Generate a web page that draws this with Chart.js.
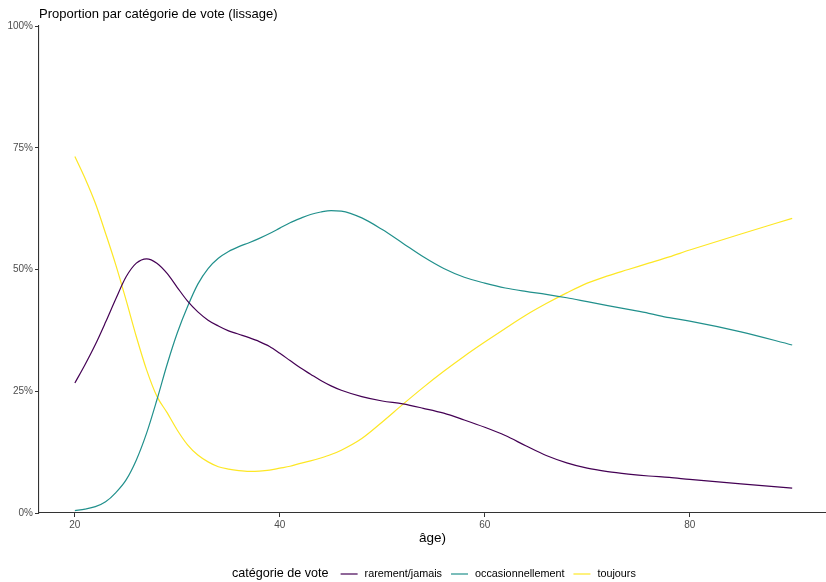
<!DOCTYPE html>
<html lang="fr">
<head>
<meta charset="utf-8">
<title>Proportion par catégorie de vote</title>
<script src="https://cdn.jsdelivr.net/npm/chart.js@4/dist/chart.umd.min.js"></script>
<style>
  html, body { margin: 0; padding: 0; background: #ffffff; }
  #wrap { width: 826px; height: 582px; position: relative; }
</style>
</head>
<body>
<div id="wrap"><canvas id="chart" width="826" height="582"></canvas></div>
<script>
// Âge (années)
const ages = [20,21,22,23,24,25,26,27,28,29,30,31,32,33,34,35,36,37,38,39,40,41,42,43,44,45,46,48,50,52,54,56,58,60,62,64,66,68,70,72,74,76,78,80,85,90];

// Proportions lissées (%) par catégorie de vote
const rarementJamais = [26.7,30.5,34.6,39.2,44.0,48.5,51.3,52.2,51.3,49.2,46.3,43.5,41.3,39.6,38.4,37.4,36.7,36.0,35.2,34.2,32.8,31.3,29.8,28.5,27.2,26.1,25.2,23.9,23.0,22.4,21.5,20.5,19.1,17.6,15.9,13.8,11.8,10.3,9.2,8.5,8.0,7.6,7.3,6.9,6.0,5.1];
const occasionnellement = [0.5,0.8,1.3,2.3,4.2,6.8,10.9,16.4,23.2,30.5,37.0,42.4,47.0,50.2,52.3,53.7,54.7,55.5,56.4,57.4,58.5,59.6,60.5,61.3,61.8,62.1,62.0,60.6,58.2,55.4,52.6,50.2,48.4,47.2,46.2,45.5,44.9,44.2,43.4,42.6,41.8,41.0,40.1,39.4,37.2,34.5];
const toujours = [73.2,68.7,63.6,57.4,50.9,43.7,36.2,29.4,24.0,20.6,17.0,14.0,11.9,10.5,9.5,9.0,8.7,8.55,8.6,8.8,9.2,9.6,10.2,10.7,11.3,12.0,12.9,15.3,18.7,22.3,25.8,29.1,32.2,35.1,37.9,40.6,43.0,45.2,47.2,48.7,50.0,51.3,52.6,54.0,57.3,60.5];

const categories = ['rarement/jamais', 'occasionnellement', 'toujours'];
const seriesValues = [rarementJamais, occasionnellement, toujours];
const seriesColors = ['#440154', '#21908C', '#FDE725'];

const xTicks = [20, 40, 60, 80];
const yTicks = [0, 0.25, 0.5, 0.75, 1];

const chartTitle = 'Proportion par catégorie de vote (lissage)';
const xTitle = 'âge)';
const legendTitle = 'catégorie de vote';

const FONT = '"Liberation Sans", Arial, Helvetica, sans-serif';

const datasets = categories.map((name, i) => ({
  label: name,
  data: ages.map((a, j) => ({ x: a, y: seriesValues[i][j] / 100 })),
  borderColor: seriesColors[i],
  backgroundColor: seriesColors[i],
  borderWidth: 1.2,
  pointRadius: 0,
  cubicInterpolationMode: 'monotone',
  fill: false
}));

// Title, x-axis title and inline legend drawn on the canvas
const annotations = {
  id: 'annotations',
  afterDraw(chart) {
    const ctx = chart.ctx;
    const area = chart.chartArea;
    ctx.save();
    ctx.fillStyle = '#000000';
    ctx.textBaseline = 'middle';

    ctx.font = '13px ' + FONT;
    ctx.textAlign = 'left';
    ctx.fillText(chartTitle, area.left, 14);

    ctx.font = '13.5px ' + FONT;
    ctx.textAlign = 'center';
    ctx.fillText(xTitle, (area.left + area.right) / 2, 538);

    // legend row
    const ly = 574;
    ctx.textAlign = 'left';
    ctx.font = '12.6px ' + FONT;
    let x = 232;
    ctx.fillText(legendTitle, x, ly);
    x += ctx.measureText(legendTitle).width + 12;
    ctx.font = '10.8px ' + FONT;
    categories.forEach((name, i) => {
      ctx.strokeStyle = seriesColors[i];
      ctx.lineWidth = 1.2;
      ctx.beginPath();
      ctx.moveTo(x, ly);
      ctx.lineTo(x + 17, ly);
      ctx.stroke();
      x += 17 + 7;
      ctx.fillStyle = '#000000';
      ctx.fillText(name, x, ly);
      x += ctx.measureText(name).width + 9;
    });
    ctx.restore();
  }
};

new Chart(document.getElementById('chart'), {
  type: 'line',
  data: { datasets },
  plugins: [annotations],
  options: {
    responsive: false,
    animation: false,
    devicePixelRatio: 1,
    layout: { padding: { top: 26, left: 0, right: 0, bottom: 0 } },
    plugins: {
      legend: { display: false },
      title: { display: false },
      tooltip: { enabled: false }
    },
    scales: {
      x: {
        type: 'linear',
        min: 16.5,
        max: 93.3,
        afterBuildTicks: s => { s.ticks = xTicks.map(v => ({ value: v })); },
        afterFit: s => { s.height = 69; },
        grid: { drawOnChartArea: false, drawTicks: true, tickLength: 4, color: '#333333', lineWidth: 1 },
        border: { display: true, color: '#333333', width: 1.1 },
        ticks: { color: '#4d4d4d', font: { family: FONT, size: 10 }, padding: 2, maxRotation: 0 }
      },
      y: {
        type: 'linear',
        min: 0,
        max: 1,
        afterBuildTicks: s => { s.ticks = yTicks.map(v => ({ value: v })); },
        afterFit: s => { s.width = 39; },
        grid: { drawOnChartArea: false, drawTicks: true, tickLength: 4, color: '#333333', lineWidth: 1 },
        border: { display: true, color: '#333333', width: 1.1 },
        ticks: {
          color: '#4d4d4d', font: { family: FONT, size: 10 }, padding: 2,
          callback: v => Math.round(v * 100) + '%'
        }
      }
    }
  }
});
</script>
</body>
</html>
